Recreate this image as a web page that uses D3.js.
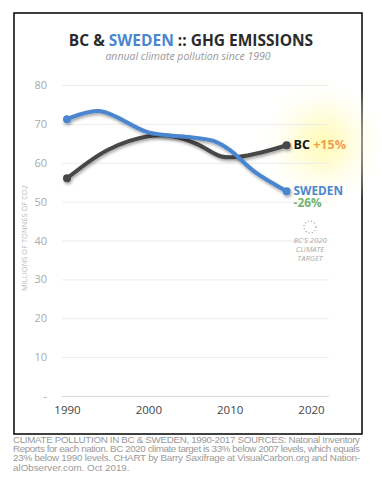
<!DOCTYPE html>
<html><head><meta charset="utf-8">
<script src="https://cdn.jsdelivr.net/npm/d3@7"></script>
<style>
html,body{margin:0;padding:0;background:#fff;}
svg{display:block;}
</style></head>
<body>
<script>
const years = [1990, 2000, 2010, 2020];
const yTicks = [0, 10, 20, 30, 40, 50, 60, 70, 80];
const swedenYears = [1990, 1994, 2000, 2005, 2008, 2010, 2013, 2017];
const swedenValues = [71.2, 73.3, 67.8, 66.6, 65.6, 63.3, 57.8, 52.7];
const bcYears = [1990, 1995, 2000, 2003, 2006, 2009, 2011, 2014, 2017];
const bcValues = [56.0, 63.3, 66.8, 66.8, 64.8, 61.6, 61.5, 62.7, 64.5];
const footerLines = [
  "CLIMATE POLLUTION IN BC & SWEDEN, 1990-2017 SOURCES: Natonal Inventory",
  "Reports for each nation. BC 2020 climate target is 33% below 2007 levels, which equals",
  "23% below 1990 levels. CHART by Barry Saxifrage at VisualCarbon.org and Nation-",
  "alObserver.com. Oct 2019."
];

const W = 382, H = 483;
const svg = d3.select("body").append("svg").attr("width", W).attr("height", H);
const defs = svg.append("defs");
const glow = defs.append("radialGradient").attr("id", "glow");
glow.append("stop").attr("offset", "0%").attr("stop-color", "#fffaa8").attr("stop-opacity", 0.85);
glow.append("stop").attr("offset", "35%").attr("stop-color", "#fffbc0").attr("stop-opacity", 0.65);
glow.append("stop").attr("offset", "70%").attr("stop-color", "#fffde2").attr("stop-opacity", 0.3);
glow.append("stop").attr("offset", "100%").attr("stop-color", "#ffffff").attr("stop-opacity", 0);
const sh = defs.append("filter").attr("id", "shadow").attr("x", "-10%").attr("y", "-20%").attr("width", "130%").attr("height", "160%");
sh.append("feDropShadow").attr("dx", 1).attr("dy", 2).attr("stdDeviation", 1.5).attr("flood-color", "#000").attr("flood-opacity", 0.35);

// frame
svg.append("rect").attr("x", 14).attr("y", 13).attr("width", 348).attr("height", 421)
  .attr("fill", "#fff").attr("stroke", "#000").attr("stroke-width", 1.5);

// glow
svg.append("circle").attr("cx", 323).attr("cy", 143).attr("r", 68).attr("fill", "url(#glow)");

const x = d3.scaleLinear().domain([1990, 2020]).range([67, 311]);
const y = d3.scaleLinear().domain([0, 80]).range([396, 85]);

// title
const title = svg.append("text").attr("x", 191).attr("y", 46).attr("text-anchor", "middle")
  .attr("font-family", "'Open Sans', sans-serif").attr("font-weight", "bold").attr("font-size", 15.5).attr("fill", "#2b2b2b");
title.append("tspan").text("BC & ");
title.append("tspan").attr("fill", "#4a86cf").text("SWEDEN");
title.append("tspan").text(" :: GHG EMISSIONS");
svg.append("text").attr("x", 188).attr("y", 60).attr("text-anchor", "middle")
  .attr("font-family", "'Open Sans', sans-serif").attr("font-style", "italic").attr("font-size", 10.5)
  .attr("fill", "#999").text("annual climate pollution since 1990");

// y grid + axis
const yAxis = d3.axisLeft(y).tickValues(yTicks).tickSize(-(329 - 62)).tickPadding(15)
  .tickFormat(d => d === 0 ? "-" : d);
const ga = svg.append("g").attr("transform", "translate(62,0)").call(yAxis);
ga.select(".domain").remove();
ga.selectAll(".tick line").attr("stroke", d => d === 0 ? "#d9d9d9" : "#ececec");
ga.selectAll(".tick text").attr("font-family", "'Open Sans', sans-serif").attr("font-size", 11).attr("fill", "#aaa");

// x axis
const xAxis = d3.axisBottom(x).tickValues(years).tickSize(0).tickPadding(10).tickFormat(d3.format("d"));
const gx = svg.append("g").attr("transform", "translate(0,396)").call(xAxis);
gx.select(".domain").remove();
gx.selectAll(".tick text").attr("font-family", "'Open Sans', sans-serif").attr("font-size", 11.5).attr("fill", "#444");

// y title
svg.append("text").attr("transform", "translate(27,238) rotate(-90)").attr("text-anchor", "middle")
  .attr("font-family", "'Open Sans', sans-serif").attr("font-size", 7.5).attr("fill", "#bbb")
  .text("MILLIONS OF TONNES OF CO2");

// lines
const line = d3.line().x(d => x(d[0])).y(d => y(d[1])).curve(d3.curveCatmullRom.alpha(0.5));
const sweden = swedenYears.map((yr, i) => [yr, swedenValues[i]]);
const bc = bcYears.map((yr, i) => [yr, bcValues[i]]);
const series = [
  {data: bc, color: "#474747"},
  {data: sweden, color: "#4a86cf"}
];
series.forEach(s => {
  const g = svg.append("g").attr("filter", "url(#shadow)");
  g.append("path").datum(s.data).attr("d", line).attr("fill", "none")
    .attr("stroke", s.color).attr("stroke-width", 4).attr("stroke-linecap", "round");
  [s.data[0], s.data[s.data.length - 1]].forEach(p => {
    g.append("circle").attr("cx", x(p[0])).attr("cy", y(p[1])).attr("r", 4).attr("fill", s.color);
  });
});

// end labels
const lastBC = bc[bc.length - 1], lastSw = sweden[sweden.length - 1];
const bcl = svg.append("text").attr("x", x(lastBC[0]) + 7).attr("y", y(lastBC[1]) + 4)
  .attr("font-family", "'Open Sans', sans-serif").attr("font-weight", "bold").attr("font-size", 12.5);
bcl.append("tspan").attr("fill", "#111").text("BC ");
bcl.append("tspan").attr("fill", "#f0a048").text("+15%");
svg.append("text").attr("x", x(lastSw[0]) + 7).attr("y", y(lastSw[1]) + 3.5)
  .attr("font-family", "'Open Sans', sans-serif").attr("font-weight", "bold").attr("font-size", 11.8)
  .attr("fill", "#4a86cf").text("SWEDEN");
svg.append("text").attr("x", x(lastSw[0]) + 7).attr("y", y(lastSw[1]) + 16)
  .attr("font-family", "'Open Sans', sans-serif").attr("font-weight", "bold").attr("font-size", 11.8)
  .attr("fill", "#72b36a").text("-26%");

// target
svg.append("circle").attr("cx", 310).attr("cy", 227).attr("r", 6).attr("fill", "none")
  .attr("stroke", "#999").attr("stroke-width", 1.2).attr("stroke-dasharray", "1,2.2");
["BC'S 2020", "CLIMATE", "TARGET"].forEach((t, i) => {
  svg.append("text").attr("x", 310).attr("y", 243 + i * 9).attr("text-anchor", "middle")
    .attr("font-family", "'Open Sans', sans-serif").attr("font-style", "italic").attr("font-size", 7.6)
    .attr("fill", "#aaa").text(t);
});

// footer
footerLines.forEach((t, i) => {
  const tx = svg.append("text").attr("x", 13).attr("y", 443 + i * 9.2)
    .attr("font-family", "'Liberation Sans Narrow', 'Arial Narrow', 'Liberation Sans', Arial, sans-serif")
    .attr("font-size", 9.8).attr("fill", "#9a9a9a").text(t);
  if (i < 3) tx.attr("textLength", 347).attr("lengthAdjust", "spacing");
});
</script>
</body></html>
